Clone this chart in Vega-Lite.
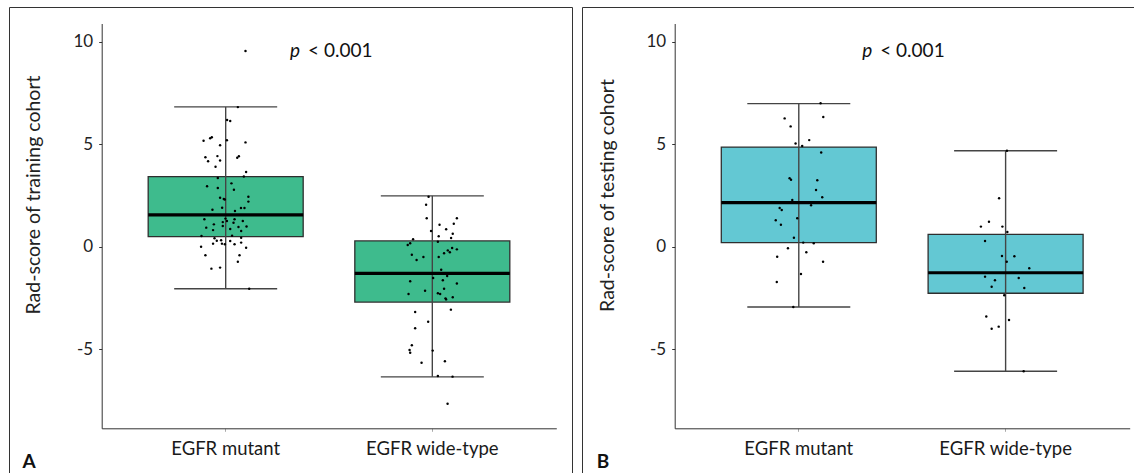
{
  "$schema": "https://vega.github.io/schema/vega-lite/v6.json",
  "padding": {"left": 8, "top": 6, "right": 0, "bottom": 0},
  "spacing": 8,
  "background": "white",
  "config": {
    "font": "Lato",
    "view": {"stroke": "#333333", "strokeWidth": 1},
    "tick": {"opacity": 1},
    "axis": {"grid": false, "domainColor": "#333333", "domainWidth": 1, "tickColor": "#333333", "labelColor": "#222222", "titleColor": "#222222", "labelFont": "Lato", "titleFont": "Lato"}
  },
  "datasets": {
    "boxes": [
      {"panel": "A", "group": "EGFR mutant", "lower": -2.05, "q1": 0.49, "median": 1.55, "q3": 3.42, "upper": 6.82},
      {"panel": "A", "group": "EGFR wide-type", "lower": -6.35, "q1": -2.70, "median": -1.30, "q3": 0.28, "upper": 2.48},
      {"panel": "B", "group": "EGFR mutant", "lower": -2.94, "q1": 0.20, "median": 2.15, "q3": 4.86, "upper": 6.98},
      {"panel": "B", "group": "EGFR wide-type", "lower": -6.08, "q1": -2.27, "median": -1.27, "q3": 0.60, "upper": 4.68}
    ],
    "points": [
      {"panel": "A", "group": "EGFR mutant", "jitter": 0.096, "score": 9.55},
      {"panel": "A", "group": "EGFR mutant", "jitter": 0.059, "score": 6.81},
      {"panel": "A", "group": "EGFR mutant", "jitter": 0.007, "score": 6.18},
      {"panel": "A", "group": "EGFR mutant", "jitter": 0.022, "score": 6.13},
      {"panel": "A", "group": "EGFR mutant", "jitter": -0.107, "score": 5.17},
      {"panel": "A", "group": "EGFR mutant", "jitter": -0.075, "score": 5.29},
      {"panel": "A", "group": "EGFR mutant", "jitter": -0.067, "score": 5.34},
      {"panel": "A", "group": "EGFR mutant", "jitter": -0.027, "score": 4.95},
      {"panel": "A", "group": "EGFR mutant", "jitter": 0.006, "score": 5.19},
      {"panel": "A", "group": "EGFR mutant", "jitter": 0.096, "score": 5.09},
      {"panel": "A", "group": "EGFR mutant", "jitter": -0.098, "score": 4.36},
      {"panel": "A", "group": "EGFR mutant", "jitter": -0.085, "score": 4.17},
      {"panel": "A", "group": "EGFR mutant", "jitter": -0.040, "score": 4.42},
      {"panel": "A", "group": "EGFR mutant", "jitter": -0.027, "score": 4.21},
      {"panel": "A", "group": "EGFR mutant", "jitter": 0.056, "score": 4.34},
      {"panel": "A", "group": "EGFR mutant", "jitter": 0.064, "score": 4.41},
      {"panel": "A", "group": "EGFR mutant", "jitter": -0.049, "score": 3.90},
      {"panel": "A", "group": "EGFR mutant", "jitter": 0.099, "score": 3.64},
      {"panel": "A", "group": "EGFR mutant", "jitter": 0.088, "score": 3.43},
      {"panel": "A", "group": "EGFR mutant", "jitter": -0.038, "score": 3.35},
      {"panel": "A", "group": "EGFR mutant", "jitter": -0.090, "score": 2.95},
      {"panel": "A", "group": "EGFR mutant", "jitter": -0.038, "score": 2.86},
      {"panel": "A", "group": "EGFR mutant", "jitter": 0.028, "score": 3.09},
      {"panel": "A", "group": "EGFR mutant", "jitter": 0.040, "score": 2.78},
      {"panel": "A", "group": "EGFR mutant", "jitter": 0.110, "score": 2.44},
      {"panel": "A", "group": "EGFR mutant", "jitter": 0.110, "score": 2.20},
      {"panel": "A", "group": "EGFR mutant", "jitter": -0.027, "score": 2.39},
      {"panel": "A", "group": "EGFR mutant", "jitter": -0.009, "score": 2.33},
      {"panel": "A", "group": "EGFR mutant", "jitter": -0.004, "score": 2.30},
      {"panel": "A", "group": "EGFR mutant", "jitter": -0.064, "score": 1.80},
      {"panel": "A", "group": "EGFR mutant", "jitter": -0.017, "score": 1.90},
      {"panel": "A", "group": "EGFR mutant", "jitter": 0.045, "score": 1.74},
      {"panel": "A", "group": "EGFR mutant", "jitter": 0.074, "score": 1.89},
      {"panel": "A", "group": "EGFR mutant", "jitter": 0.091, "score": 1.89},
      {"panel": "A", "group": "EGFR mutant", "jitter": -0.103, "score": 1.34},
      {"panel": "A", "group": "EGFR mutant", "jitter": -0.057, "score": 1.09},
      {"panel": "A", "group": "EGFR mutant", "jitter": -0.094, "score": 0.93},
      {"panel": "A", "group": "EGFR mutant", "jitter": -0.061, "score": 0.81},
      {"panel": "A", "group": "EGFR mutant", "jitter": -0.014, "score": 1.20},
      {"panel": "A", "group": "EGFR mutant", "jitter": -0.014, "score": 1.01},
      {"panel": "A", "group": "EGFR mutant", "jitter": -0.001, "score": 1.37},
      {"panel": "A", "group": "EGFR mutant", "jitter": 0.006, "score": 1.25},
      {"panel": "A", "group": "EGFR mutant", "jitter": 0.038, "score": 1.17},
      {"panel": "A", "group": "EGFR mutant", "jitter": 0.043, "score": 1.34},
      {"panel": "A", "group": "EGFR mutant", "jitter": 0.083, "score": 1.25},
      {"panel": "A", "group": "EGFR mutant", "jitter": 0.101, "score": 0.99},
      {"panel": "A", "group": "EGFR mutant", "jitter": 0.062, "score": 0.96},
      {"panel": "A", "group": "EGFR mutant", "jitter": 0.022, "score": 0.86},
      {"panel": "A", "group": "EGFR mutant", "jitter": 0.075, "score": 0.77},
      {"panel": "A", "group": "EGFR mutant", "jitter": 0.031, "score": 0.54},
      {"panel": "A", "group": "EGFR mutant", "jitter": 0.075, "score": 0.44},
      {"panel": "A", "group": "EGFR mutant", "jitter": -0.117, "score": 0.52},
      {"panel": "A", "group": "EGFR mutant", "jitter": -0.054, "score": 0.41},
      {"panel": "A", "group": "EGFR mutant", "jitter": -0.043, "score": 0.29},
      {"panel": "A", "group": "EGFR mutant", "jitter": -0.022, "score": 0.31},
      {"panel": "A", "group": "EGFR mutant", "jitter": -0.061, "score": 0.15},
      {"panel": "A", "group": "EGFR mutant", "jitter": -0.018, "score": 0.15},
      {"panel": "A", "group": "EGFR mutant", "jitter": -0.004, "score": 0.12},
      {"panel": "A", "group": "EGFR mutant", "jitter": 0.022, "score": 0.28},
      {"panel": "A", "group": "EGFR mutant", "jitter": 0.043, "score": 0.12},
      {"panel": "A", "group": "EGFR mutant", "jitter": 0.075, "score": 0.20},
      {"panel": "A", "group": "EGFR mutant", "jitter": -0.119, "score": 0.00},
      {"panel": "A", "group": "EGFR mutant", "jitter": 0.099, "score": -0.05},
      {"panel": "A", "group": "EGFR mutant", "jitter": -0.098, "score": -0.42},
      {"panel": "A", "group": "EGFR mutant", "jitter": 0.067, "score": -0.42},
      {"panel": "A", "group": "EGFR mutant", "jitter": 0.059, "score": -0.73},
      {"panel": "A", "group": "EGFR mutant", "jitter": -0.069, "score": -1.07},
      {"panel": "A", "group": "EGFR mutant", "jitter": -0.027, "score": -1.02},
      {"panel": "A", "group": "EGFR mutant", "jitter": 0.114, "score": -2.05},
      {"panel": "A", "group": "EGFR wide-type", "jitter": -0.018, "score": 2.44},
      {"panel": "A", "group": "EGFR wide-type", "jitter": -0.030, "score": 2.05},
      {"panel": "A", "group": "EGFR wide-type", "jitter": -0.027, "score": 1.39},
      {"panel": "A", "group": "EGFR wide-type", "jitter": 0.119, "score": 1.39},
      {"panel": "A", "group": "EGFR wide-type", "jitter": 0.035, "score": 1.07},
      {"panel": "A", "group": "EGFR wide-type", "jitter": 0.104, "score": 1.12},
      {"panel": "A", "group": "EGFR wide-type", "jitter": 0.067, "score": 0.85},
      {"panel": "A", "group": "EGFR wide-type", "jitter": -0.006, "score": 0.77},
      {"panel": "A", "group": "EGFR wide-type", "jitter": 0.099, "score": 0.63},
      {"panel": "A", "group": "EGFR wide-type", "jitter": 0.031, "score": 0.51},
      {"panel": "A", "group": "EGFR wide-type", "jitter": 0.091, "score": 0.42},
      {"panel": "A", "group": "EGFR wide-type", "jitter": -0.093, "score": 0.36},
      {"panel": "A", "group": "EGFR wide-type", "jitter": 0.027, "score": 0.24},
      {"panel": "A", "group": "EGFR wide-type", "jitter": -0.107, "score": 0.17},
      {"panel": "A", "group": "EGFR wide-type", "jitter": -0.119, "score": 0.08},
      {"panel": "A", "group": "EGFR wide-type", "jitter": 0.096, "score": -0.06},
      {"panel": "A", "group": "EGFR wide-type", "jitter": 0.119, "score": -0.13},
      {"panel": "A", "group": "EGFR wide-type", "jitter": 0.075, "score": -0.18},
      {"panel": "A", "group": "EGFR wide-type", "jitter": 0.085, "score": -0.27},
      {"panel": "A", "group": "EGFR wide-type", "jitter": 0.057, "score": -0.32},
      {"panel": "A", "group": "EGFR wide-type", "jitter": -0.099, "score": -0.39},
      {"panel": "A", "group": "EGFR wide-type", "jitter": -0.043, "score": -0.50},
      {"panel": "A", "group": "EGFR wide-type", "jitter": 0.031, "score": -0.50},
      {"panel": "A", "group": "EGFR wide-type", "jitter": -0.076, "score": -0.65},
      {"panel": "A", "group": "EGFR wide-type", "jitter": 0.043, "score": -1.12},
      {"panel": "A", "group": "EGFR wide-type", "jitter": 0.072, "score": -1.43},
      {"panel": "A", "group": "EGFR wide-type", "jitter": 0.004, "score": -1.53},
      {"panel": "A", "group": "EGFR wide-type", "jitter": 0.051, "score": -1.64},
      {"panel": "A", "group": "EGFR wide-type", "jitter": -0.107, "score": -1.69},
      {"panel": "A", "group": "EGFR wide-type", "jitter": 0.119, "score": -1.80},
      {"panel": "A", "group": "EGFR wide-type", "jitter": 0.057, "score": -2.05},
      {"panel": "A", "group": "EGFR wide-type", "jitter": -0.035, "score": -2.15},
      {"panel": "A", "group": "EGFR wide-type", "jitter": -0.115, "score": -2.31},
      {"panel": "A", "group": "EGFR wide-type", "jitter": 0.027, "score": -2.27},
      {"panel": "A", "group": "EGFR wide-type", "jitter": 0.038, "score": -2.31},
      {"panel": "A", "group": "EGFR wide-type", "jitter": 0.099, "score": -2.47},
      {"panel": "A", "group": "EGFR wide-type", "jitter": 0.064, "score": -2.52},
      {"panel": "A", "group": "EGFR wide-type", "jitter": 0.067, "score": -2.57},
      {"panel": "A", "group": "EGFR wide-type", "jitter": 0.090, "score": -3.07},
      {"panel": "A", "group": "EGFR wide-type", "jitter": -0.083, "score": -3.19},
      {"panel": "A", "group": "EGFR wide-type", "jitter": -0.020, "score": -3.66},
      {"panel": "A", "group": "EGFR wide-type", "jitter": -0.083, "score": -3.98},
      {"panel": "A", "group": "EGFR wide-type", "jitter": -0.099, "score": -4.81},
      {"panel": "A", "group": "EGFR wide-type", "jitter": -0.110, "score": -5.04},
      {"panel": "A", "group": "EGFR wide-type", "jitter": -0.107, "score": -5.17},
      {"panel": "A", "group": "EGFR wide-type", "jitter": 0.002, "score": -5.07},
      {"panel": "A", "group": "EGFR wide-type", "jitter": -0.052, "score": -5.66},
      {"panel": "A", "group": "EGFR wide-type", "jitter": 0.061, "score": -5.59},
      {"panel": "A", "group": "EGFR wide-type", "jitter": 0.027, "score": -6.31},
      {"panel": "A", "group": "EGFR wide-type", "jitter": 0.098, "score": -6.34},
      {"panel": "A", "group": "EGFR wide-type", "jitter": 0.074, "score": -7.66},
      {"panel": "B", "group": "EGFR mutant", "jitter": 0.106, "score": 7.00},
      {"panel": "B", "group": "EGFR mutant", "jitter": -0.068, "score": 6.26},
      {"panel": "B", "group": "EGFR mutant", "jitter": 0.119, "score": 6.33},
      {"panel": "B", "group": "EGFR mutant", "jitter": -0.039, "score": 5.87},
      {"panel": "B", "group": "EGFR mutant", "jitter": 0.051, "score": 5.20},
      {"panel": "B", "group": "EGFR mutant", "jitter": -0.015, "score": 5.04},
      {"panel": "B", "group": "EGFR mutant", "jitter": 0.017, "score": 4.91},
      {"panel": "B", "group": "EGFR mutant", "jitter": 0.109, "score": 4.60},
      {"panel": "B", "group": "EGFR mutant", "jitter": -0.044, "score": 3.34},
      {"panel": "B", "group": "EGFR mutant", "jitter": -0.037, "score": 3.27},
      {"panel": "B", "group": "EGFR mutant", "jitter": 0.090, "score": 3.24},
      {"panel": "B", "group": "EGFR mutant", "jitter": 0.084, "score": 2.77},
      {"panel": "B", "group": "EGFR mutant", "jitter": 0.114, "score": 2.41},
      {"panel": "B", "group": "EGFR mutant", "jitter": -0.031, "score": 2.28},
      {"panel": "B", "group": "EGFR mutant", "jitter": 0.060, "score": 2.02},
      {"panel": "B", "group": "EGFR mutant", "jitter": -0.092, "score": 1.89},
      {"panel": "B", "group": "EGFR mutant", "jitter": -0.082, "score": 1.79},
      {"panel": "B", "group": "EGFR mutant", "jitter": -0.007, "score": 1.39},
      {"panel": "B", "group": "EGFR mutant", "jitter": -0.111, "score": 1.29},
      {"panel": "B", "group": "EGFR mutant", "jitter": -0.086, "score": 1.07},
      {"panel": "B", "group": "EGFR mutant", "jitter": -0.023, "score": 0.44},
      {"panel": "B", "group": "EGFR mutant", "jitter": 0.022, "score": 0.20},
      {"panel": "B", "group": "EGFR mutant", "jitter": 0.073, "score": 0.17},
      {"panel": "B", "group": "EGFR mutant", "jitter": -0.052, "score": -0.08},
      {"panel": "B", "group": "EGFR mutant", "jitter": 0.037, "score": -0.27},
      {"panel": "B", "group": "EGFR mutant", "jitter": -0.104, "score": -0.49},
      {"panel": "B", "group": "EGFR mutant", "jitter": 0.118, "score": -0.73},
      {"panel": "B", "group": "EGFR mutant", "jitter": 0.011, "score": -1.33},
      {"panel": "B", "group": "EGFR mutant", "jitter": -0.106, "score": -1.72},
      {"panel": "B", "group": "EGFR mutant", "jitter": -0.026, "score": -2.94},
      {"panel": "B", "group": "EGFR wide-type", "jitter": 0.007, "score": 4.68},
      {"panel": "B", "group": "EGFR wide-type", "jitter": -0.031, "score": 2.36},
      {"panel": "B", "group": "EGFR wide-type", "jitter": -0.080, "score": 1.22},
      {"panel": "B", "group": "EGFR wide-type", "jitter": -0.119, "score": 0.98},
      {"panel": "B", "group": "EGFR wide-type", "jitter": -0.015, "score": 0.98},
      {"panel": "B", "group": "EGFR wide-type", "jitter": 0.009, "score": 0.72},
      {"panel": "B", "group": "EGFR wide-type", "jitter": -0.099, "score": 0.28},
      {"panel": "B", "group": "EGFR wide-type", "jitter": -0.017, "score": -0.45},
      {"panel": "B", "group": "EGFR wide-type", "jitter": 0.043, "score": -0.47},
      {"panel": "B", "group": "EGFR wide-type", "jitter": 0.006, "score": -0.73},
      {"panel": "B", "group": "EGFR wide-type", "jitter": 0.115, "score": -1.05},
      {"panel": "B", "group": "EGFR wide-type", "jitter": -0.099, "score": -1.46},
      {"panel": "B", "group": "EGFR wide-type", "jitter": -0.051, "score": -1.64},
      {"panel": "B", "group": "EGFR wide-type", "jitter": 0.064, "score": -1.53},
      {"panel": "B", "group": "EGFR wide-type", "jitter": -0.067, "score": -1.95},
      {"panel": "B", "group": "EGFR wide-type", "jitter": 0.091, "score": -2.01},
      {"panel": "B", "group": "EGFR wide-type", "jitter": -0.006, "score": -2.37},
      {"panel": "B", "group": "EGFR wide-type", "jitter": -0.093, "score": -3.41},
      {"panel": "B", "group": "EGFR wide-type", "jitter": 0.017, "score": -3.58},
      {"panel": "B", "group": "EGFR wide-type", "jitter": -0.067, "score": -4.00},
      {"panel": "B", "group": "EGFR wide-type", "jitter": -0.033, "score": -3.90},
      {"panel": "B", "group": "EGFR wide-type", "jitter": 0.088, "score": -6.08}
    ],
    "notes": [
      {"panel": "A", "italic": "p", "rest": "< 0.001", "score": 9.55},
      {"panel": "B", "italic": "p", "rest": "< 0.001", "score": 9.55}
    ]
  },
  "hconcat": [
    {
      "width": 563,
      "height": 467,
      "layer": [
        {
          "data": {"name": "boxes"},
          "transform": [{"filter": "datum.panel === 'A'"}],
          "mark": {"type": "bar", "width": 155, "fill": "#3ebb8d", "stroke": "#2e2e2e", "strokeWidth": 1.3},
          "encoding": {
            "x": {"field": "group", "type": "nominal", "scale": {"domain": ["EGFR mutant", "EGFR wide-type"], "range": [92.7, 547.3], "paddingInner": 0, "paddingOuter": 0.1},
              "axis": {"title": "A", "titleX": 13, "titleY": 39.4, "titleAlign": "left", "titleAnchor": null, "titleBaseline": "alphabetic", "titleFontSize": 19, "titleFontWeight": "bold", "titleColor": "#111111", "offset": -45.7, "labelAngle": 0, "labelFontSize": 18.5, "labelPadding": 8, "tickSize": 3, "tickColor": "#aaaaaa", "labelColor": "#1a1a1a"}},
            "y": {"field": "q1", "type": "quantitative", "scale": {"domain": [-8.86, 10.89], "range": [421.3, 16.5], "nice": false, "zero": false},
              "axis": {"title": "Rad-score of training cohort", "values": [-5, 0, 5, 10], "labelExpr": "'' + datum.value", "offset": -92.7, "labelFontSize": 17, "labelPadding": 6, "tickSize": 3, "titleFontSize": 19.5, "titleFontWeight": "normal", "titleX": -61.7, "titleY": 187.5, "titleAlign": "center", "titleAnchor": null, "titleBaseline": "alphabetic"}},
            "y2": {"field": "q3"}
          }
        },
        {
          "data": {"name": "boxes"},
          "transform": [{"filter": "datum.panel === 'A'"}],
          "mark": {"type": "rule", "color": "#444444", "strokeWidth": 1.4},
          "encoding": {
            "x": {"field": "group", "type": "nominal"},
            "y": {"field": "lower", "type": "quantitative"},
            "y2": {"field": "upper"}
          }
        },
        {
          "data": {"name": "boxes"},
          "transform": [{"filter": "datum.panel === 'A'"}],
          "mark": {"type": "tick", "color": "#444444", "size": 103, "thickness": 1.4, "opacity": 1},
          "encoding": {
            "x": {"field": "group", "type": "nominal"},
            "y": {"field": "lower", "type": "quantitative"}
          }
        },
        {
          "data": {"name": "boxes"},
          "transform": [{"filter": "datum.panel === 'A'"}],
          "mark": {"type": "tick", "color": "#444444", "size": 103, "thickness": 1.4, "opacity": 1},
          "encoding": {
            "x": {"field": "group", "type": "nominal"},
            "y": {"field": "upper", "type": "quantitative"}
          }
        },
        {
          "data": {"name": "boxes"},
          "transform": [{"filter": "datum.panel === 'A'"}],
          "mark": {"type": "tick", "color": "#000000", "size": 155, "thickness": 3.2, "opacity": 1},
          "encoding": {
            "x": {"field": "group", "type": "nominal"},
            "y": {"field": "median", "type": "quantitative"}
          }
        },
        {
          "data": {"name": "points"},
          "transform": [{"filter": "datum.panel === 'A'"}],
          "mark": {"type": "circle", "color": "#000000", "size": 6, "opacity": 1},
          "encoding": {
            "x": {"field": "group", "type": "nominal"},
            "xOffset": {"field": "jitter", "type": "quantitative", "scale": {"domain": [-0.5, 0.5], "range": [0, 206.6]}},
            "y": {"field": "score", "type": "quantitative"}
          }
        },
        {
          "data": {"name": "notes"},
          "transform": [{"filter": "datum.panel === 'A'"}],
          "mark": {"type": "text", "fontSize": 19, "fontStyle": "italic", "align": "right", "baseline": "middle", "dx": -29, "color": "#111111"},
          "encoding": {
            "x": {"datum": "EGFR wide-type", "type": "nominal", "bandPosition": 0},
            "y": {"field": "score", "type": "quantitative"},
            "text": {"field": "italic"}
          }
        },
        {
          "data": {"name": "notes"},
          "transform": [{"filter": "datum.panel === 'A'"}],
          "mark": {"type": "text", "fontSize": 19, "align": "left", "baseline": "middle", "dx": -21, "color": "#111111"},
          "encoding": {
            "x": {"datum": "EGFR wide-type", "type": "nominal", "bandPosition": 0},
            "y": {"field": "score", "type": "quantitative"},
            "text": {"field": "rest"}
          }
        }
      ]
    },
    {
      "width": 554,
      "height": 467,
      "layer": [
        {
          "data": {"name": "boxes"},
          "transform": [{"filter": "datum.panel === 'B'"}],
          "mark": {"type": "bar", "width": 155, "fill": "#63c8d3", "stroke": "#2e2e2e", "strokeWidth": 1.3},
          "encoding": {
            "x": {"field": "group", "type": "nominal", "scale": {"domain": ["EGFR mutant", "EGFR wide-type"], "range": [92.7, 547.7], "paddingInner": 0, "paddingOuter": 0.1},
              "axis": {"title": "B", "titleX": 14.3, "titleY": 39.4, "titleAlign": "left", "titleAnchor": null, "titleBaseline": "alphabetic", "titleFontSize": 19, "titleFontWeight": "bold", "titleColor": "#111111", "offset": -45.7, "labelAngle": 0, "labelFontSize": 18.5, "labelPadding": 8, "tickSize": 3, "tickColor": "#aaaaaa", "labelColor": "#1a1a1a"}},
            "y": {"field": "q1", "type": "quantitative", "scale": {"domain": [-8.86, 10.89], "range": [421.3, 16.5], "nice": false, "zero": false},
              "axis": {"title": "Rad-score of testing cohort", "values": [-5, 0, 5, 10], "labelExpr": "'' + datum.value", "offset": -92.7, "labelFontSize": 17, "labelPadding": 6, "tickSize": 3, "titleFontSize": 19.5, "titleFontWeight": "normal", "titleX": -61.7, "titleY": 188, "titleAlign": "center", "titleAnchor": null, "titleBaseline": "alphabetic"}},
            "y2": {"field": "q3"}
          }
        },
        {
          "data": {"name": "boxes"},
          "transform": [{"filter": "datum.panel === 'B'"}],
          "mark": {"type": "rule", "color": "#444444", "strokeWidth": 1.4},
          "encoding": {
            "x": {"field": "group", "type": "nominal"},
            "y": {"field": "lower", "type": "quantitative"},
            "y2": {"field": "upper"}
          }
        },
        {
          "data": {"name": "boxes"},
          "transform": [{"filter": "datum.panel === 'B'"}],
          "mark": {"type": "tick", "color": "#444444", "size": 103, "thickness": 1.4, "opacity": 1},
          "encoding": {
            "x": {"field": "group", "type": "nominal"},
            "y": {"field": "lower", "type": "quantitative"}
          }
        },
        {
          "data": {"name": "boxes"},
          "transform": [{"filter": "datum.panel === 'B'"}],
          "mark": {"type": "tick", "color": "#444444", "size": 103, "thickness": 1.4, "opacity": 1},
          "encoding": {
            "x": {"field": "group", "type": "nominal"},
            "y": {"field": "upper", "type": "quantitative"}
          }
        },
        {
          "data": {"name": "boxes"},
          "transform": [{"filter": "datum.panel === 'B'"}],
          "mark": {"type": "tick", "color": "#000000", "size": 155, "thickness": 3.2, "opacity": 1},
          "encoding": {
            "x": {"field": "group", "type": "nominal"},
            "y": {"field": "median", "type": "quantitative"}
          }
        },
        {
          "data": {"name": "points"},
          "transform": [{"filter": "datum.panel === 'B'"}],
          "mark": {"type": "circle", "color": "#000000", "size": 6, "opacity": 1},
          "encoding": {
            "x": {"field": "group", "type": "nominal"},
            "xOffset": {"field": "jitter", "type": "quantitative", "scale": {"domain": [-0.5, 0.5], "range": [0, 206.6]}},
            "y": {"field": "score", "type": "quantitative"}
          }
        },
        {
          "data": {"name": "notes"},
          "transform": [{"filter": "datum.panel === 'B'"}],
          "mark": {"type": "text", "fontSize": 19, "fontStyle": "italic", "align": "right", "baseline": "middle", "dx": -30, "color": "#111111"},
          "encoding": {
            "x": {"datum": "EGFR wide-type", "type": "nominal", "bandPosition": 0},
            "y": {"field": "score", "type": "quantitative"},
            "text": {"field": "italic"}
          }
        },
        {
          "data": {"name": "notes"},
          "transform": [{"filter": "datum.panel === 'B'"}],
          "mark": {"type": "text", "fontSize": 19, "align": "left", "baseline": "middle", "dx": -22, "color": "#111111"},
          "encoding": {
            "x": {"datum": "EGFR wide-type", "type": "nominal", "bandPosition": 0},
            "y": {"field": "score", "type": "quantitative"},
            "text": {"field": "rest"}
          }
        }
      ]
    }
  ]
}
